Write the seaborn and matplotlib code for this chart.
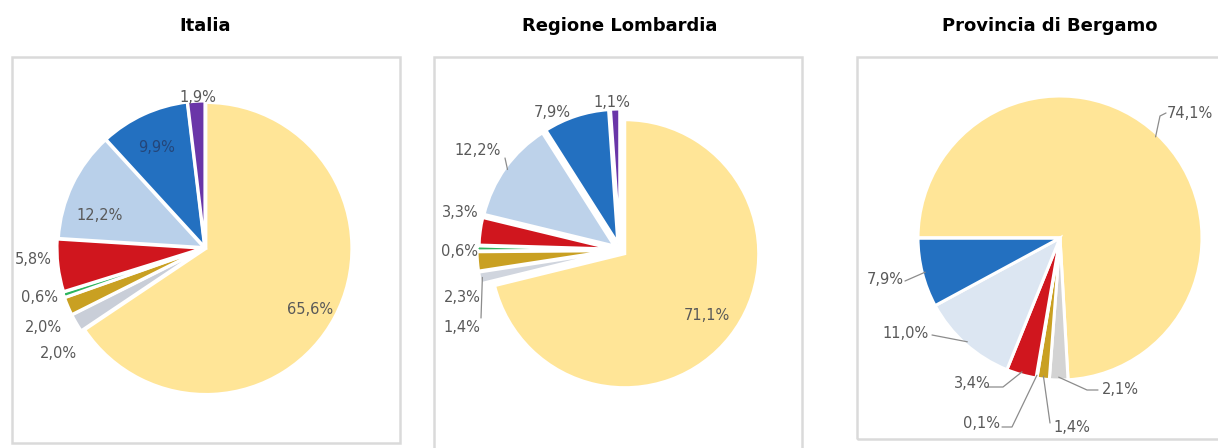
import matplotlib
matplotlib.use("Agg")
import matplotlib.pyplot as plt
import matplotlib.patches as mpatches
import numpy as np
import seaborn as sns

sns.set_style("white")
plt.rcParams["font.family"] = ["DejaVu Sans"]

# dati (quote percentuali, ordine orario a partire dallo startangle)
categorie = ["cat. 1", "cat. 2", "cat. 3", "cat. 4", "cat. 5", "cat. 6", "cat. 7", "cat. 8"]
italia = [65.6, 2.0, 2.0, 0.6, 5.8, 12.2, 9.9, 1.9]
lombardia = [71.1, 1.4, 2.3, 0.6, 3.3, 12.2, 7.9, 1.1]
bergamo = [74.1, 2.1, 1.4, 0.1, 3.4, 11.0, 7.9, 0.0]
titoli = ["Italia", "Regione Lombardia", "Provincia di Bergamo"]

colori_it = ["#FFE597", "#C9CED8", "#C9A022", "#2DB55D", "#D0161E", "#B9D0EA", "#2370C0", "#6A36A8"]
colori_lo = ["#FFE597", "#D0D5DE", "#C9A022", "#2DB55D", "#D0161E", "#BDD2EA", "#2370C0", "#6A36A8"]
colori_bg = ["#FFE597", "#D3D3D3", "#C9A022", "#2DB55D", "#D0161E", "#DCE6F2", "#2370C0", "#6A36A8"]

W, H = 1218, 448


def fy(y):
    # coordinate immagine (y verso il basso) -> coordinate assi
    return H - y


def etichetta(v):
    return "{:.1f}%".format(v).replace(".", ",")


def rim_point(w, frac=0.98):
    th = np.deg2rad((w.theta1 + w.theta2) / 2)
    cx, cy = w.center
    return cx + w.r * frac * np.cos(th), cy + w.r * frac * np.sin(th)


fig = plt.figure(figsize=(W / 100, H / 100), dpi=100)
ax = fig.add_axes([0, 0, 1, 1])

# riquadri
boxes = [(12, 57, 400, 443), (434, 57, 802, 452), (857, 57, 1222, 439)]
for x0, y0, x1, y1 in boxes:
    ax.add_patch(mpatches.Rectangle((x0, fy(y1)), x1 - x0, y1 - y0, fill=False,
                                    edgecolor="#dadada", linewidth=1.8))

# titoli
for t, x in zip(titoli, [205, 620, 1050]):
    ax.text(x, fy(26), t, ha="center", va="center", fontsize=13, fontweight="bold", color="#000000")

panels = [
    dict(vals=italia, cols=colori_it, center=(205, 248), r=146, start=90,
         explode=[1, 3, 3, 3, 2, 1, 1, 1],
         pos=[(310, 310), (58, 353), (43, 327), (40, 298), (33, 260), (100, 215), (157, 147), (198, 97)],
         inside=[0, 5, 6]),
    dict(vals=lombardia, cols=colori_lo, center=(620, 250), r=134, start=90,
         explode=[6, 9, 9, 9, 7, 7, 7, 7],
         pos=[(707, 315), (462, 328), (462, 298), (460, 252), (460, 212), (478, 150), (552, 112), (612, 102)],
         inside=[0]),
    dict(vals=bergamo, cols=colori_bg, center=(1060, 238), r=142, start=180,
         explode=[0, 0, 0, 0, 0, 0, 0, 0],
         pos=[(1190, 113), (1120, 390), (1072, 427), (982, 423), (972, 383), (906, 333), (885, 280), None],
         inside=[]),
]

# punti di gomito delle linee guida (coordinate immagine)
leaders = {
    1: {5: [(505, 158)], 1: [(481, 318)]},
    2: {0: [(1160, 116), (1166, 113)], 1: [(1087, 390), (1098, 390)], 2: [(1050, 423)],
        3: [(1012, 427), (1002, 427)], 4: [(1003, 387), (988, 387)], 5: [(932, 335)],
        6: [(905, 281)]},
}

for i, p in enumerate(panels):
    cx, cy = p["center"]
    wedges, _ = ax.pie(p["vals"], colors=p["cols"], startangle=p["start"], counterclock=False,
                       center=(cx, fy(cy)), radius=p["r"], explode=p["explode"],
                       wedgeprops=dict(edgecolor="white", linewidth=2.2))
    for j, (v, pos) in enumerate(zip(p["vals"], p["pos"])):
        if v <= 0 or pos is None:
            continue
        col = "#595959"
        if j in p["inside"] and j == 6:
            col = "#24467a"
        ax.text(pos[0], fy(pos[1]), etichetta(v), ha="center", va="center", fontsize=10.5, color=col)
    for j, pts in leaders.get(i, {}).items():
        ax_, ay_ = rim_point(wedges[j])
        xs = [ax_] + [q[0] for q in pts]
        ys = [ay_] + [fy(q[1]) for q in pts]
        ax.plot(xs, ys, color="#8c8c8c", linewidth=0.9)

ax.set_xlim(0, W)
ax.set_ylim(0, H)
ax.set_aspect("equal")
ax.axis("off")

fig.savefig("out.png", dpi=100)
